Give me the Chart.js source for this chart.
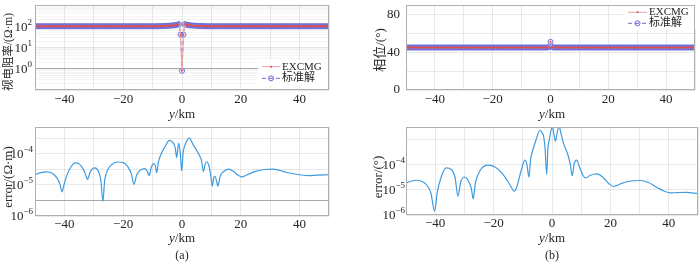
<!DOCTYPE html>
<html>
<head>
<meta charset="utf-8">
<script src="https://cdn.jsdelivr.net/npm/chart.js@4.4.1/dist/chart.umd.min.js"></script>
<style>
  body { margin: 0; width: 700px; height: 262px; background: #fff; position: relative; overflow: hidden;
         font-family: 'Liberation Serif', 'Noto Sans CJK SC', serif; color: #262626; }
  .box { position: absolute; width: 350px; height: 120px; }
  .lbl { position: absolute; font-size: 13px; white-space: nowrap; transform: translate(-50%, -50%); }
  .rot { transform: translate(-50%, -50%) rotate(-90deg); }
</style>
</head>
<body>
<div class="box" style="left:0;top:0"><canvas id="rhoChart" width="350" height="120"></canvas></div>
<div class="box" style="left:350px;top:0"><canvas id="phaseChart" width="350" height="120"></canvas></div>
<div class="box" style="left:0;top:120px"><canvas id="errRhoChart" width="350" height="120"></canvas></div>
<div class="box" style="left:350px;top:120px"><canvas id="errPhaseChart" width="350" height="120"></canvas></div>

<div class="lbl rot" style="left:7px;top:52px;font-size:11.5px">视电阻率/(Ω·m)</div>
<div class="lbl rot" style="left:378px;top:50px">相位/(°)</div>
<div class="lbl rot" style="left:8px;top:177px">error/(Ω·m)</div>
<div class="lbl rot" style="left:378px;top:177px">error/(°)</div>
<div class="lbl" style="left:182px;top:114px"><i>y</i>/km</div>
<div class="lbl" style="left:552px;top:114px"><i>y</i>/km</div>
<div class="lbl" style="left:182px;top:238px"><i>y</i>/km</div>
<div class="lbl" style="left:552px;top:238px"><i>y</i>/km</div>
<div class="lbl" style="left:182px;top:255px;font-size:12px">(a)</div>
<div class="lbl" style="left:552px;top:255px;font-size:12px">(b)</div>

<script>
// stations (km)
const stations = [
  -50,-49.5,-49,-48.5,-48,-47.5,-47,-46.5,-46,-45.5,-45,-44.5,-44,-43.5,-43,-42.5,-42,-41.5,-41,-40.5,
  -40,-39.5,-39,-38.5,-38,-37.5,-37,-36.5,-36,-35.5,-35,-34.5,-34,-33.5,-33,-32.5,-32,-31.5,-31,-30.5,
  -30,-29.5,-29,-28.5,-28,-27.5,-27,-26.5,-26,-25.5,-25,-24.5,-24,-23.5,-23,-22.5,-22,-21.5,-21,-20.5,
  -20,-19.5,-19,-18.5,-18,-17.5,-17,-16.5,-16,-15.5,-15,-14.5,-14,-13.5,-13,-12.5,-12,-11.5,-11,-10.5,
  -10,-9.5,-9,-8.5,-8,-7.5,-7,-6.5,-6,-5.5,-5,-4.5,-4,-3.5,-3,-2.5,-2,-1.5,-1,-0.5,
  0,0.5,1,1.5,2,2.5,3,3.5,4,4.5,5,5.5,6,6.5,7,7.5,8,8.5,9,9.5,
  10,10.5,11,11.5,12,12.5,13,13.5,14,14.5,15,15.5,16,16.5,17,17.5,18,18.5,19,19.5,
  20,20.5,21,21.5,22,22.5,23,23.5,24,24.5,25,25.5,26,26.5,27,27.5,28,28.5,29,29.5,
  30,30.5,31,31.5,32,32.5,33,33.5,34,34.5,35,35.5,36,36.5,37,37.5,38,38.5,39,39.5,
  40,40.5,41,41.5,42,42.5,43,43.5,44,44.5,45,45.5,46,46.5,47,47.5,48,48.5,49,49.5,
  50];

// apparent resistivity (Ohm.m)
const rhoExcmg = [
  100,100,100,100,100,100,100,100,100,100,100,100,100,100,100,100,100,100,100,100,
  100,100,100,100,100,100,100,100,100,100,100,100,100,100,100,100,100,100,100,100,
  100,100,100,100,100,100,100,100,100,100,100,100,100,100,100,100,100,100,100,100,
  100,100,100,100,100,100,100,100,100,100,100,100,100,100,100,100,100,100,100,100,
  100,100,100,100,101,101.5,102,102.5,103,104,105,106,107,108.5,110,112,115,120,126,40,
  0.8,40,126,120,115,112,110,108.5,107,106,105,104,103,102.5,102,101.5,101,100,100,100,
  100,100,100,100,100,100,100,100,100,100,100,100,100,100,100,100,100,100,100,100,
  100,100,100,100,100,100,100,100,100,100,100,100,100,100,100,100,100,100,100,100,
  100,100,100,100,100,100,100,100,100,100,100,100,100,100,100,100,100,100,100,100,
  100,100,100,100,100,100,100,100,100,100,100,100,100,100,100,100,100,100,100,100,
  100];
const rhoRef = [
  100,100,100,100,100,100,100,100,100,100,100,100,100,100,100,100,100,100,100,100,
  100,100,100,100,100,100,100,100,100,100,100,100,100,100,100,100,100,100,100,100,
  100,100,100,100,100,100,100,100,100,100,100,100,100,100,100,100,100,100,100,100,
  100,100,100,100,100,100,100,100,100,100,100,100,100,100,100,100,100,100,100,100,
  100,100,100,100,101,101.5,102,102.5,103,104,105,106,107,108.5,110,112,115,120,126,40,
  0.8,40,126,120,115,112,110,108.5,107,106,105,104,103,102.5,102,101.5,101,100,100,100,
  100,100,100,100,100,100,100,100,100,100,100,100,100,100,100,100,100,100,100,100,
  100,100,100,100,100,100,100,100,100,100,100,100,100,100,100,100,100,100,100,100,
  100,100,100,100,100,100,100,100,100,100,100,100,100,100,100,100,100,100,100,100,
  100,100,100,100,100,100,100,100,100,100,100,100,100,100,100,100,100,100,100,100,
  100];

// phase (deg)
const phaseExcmg = [
  45,45,45,45,45,45,45,45,45,45,45,45,45,45,45,45,45,45,45,45,
  45,45,45,45,45,45,45,45,45,45,45,45,45,45,45,45,45,45,45,45,
  45,45,45,45,45,45,45,45,45,45,45,45,45,45,45,45,45,45,45,45,
  45,45,45,45,45,45,45,45,45,45,45,45,45,45,45,45,45,45,45,45,
  45,45,45,45,45,45,45,45,45,45,45,45,45,45,45,45,45,45,45,45.5,
  51,45.5,45,45,45,45,45,45,45,45,45,45,45,45,45,45,45,45,45,45,
  45,45,45,45,45,45,45,45,45,45,45,45,45,45,45,45,45,45,45,45,
  45,45,45,45,45,45,45,45,45,45,45,45,45,45,45,45,45,45,45,45,
  45,45,45,45,45,45,45,45,45,45,45,45,45,45,45,45,45,45,45,45,
  45,45,45,45,45,45,45,45,45,45,45,45,45,45,45,45,45,45,45,45,
  45];
const phaseRef = [
  45,45,45,45,45,45,45,45,45,45,45,45,45,45,45,45,45,45,45,45,
  45,45,45,45,45,45,45,45,45,45,45,45,45,45,45,45,45,45,45,45,
  45,45,45,45,45,45,45,45,45,45,45,45,45,45,45,45,45,45,45,45,
  45,45,45,45,45,45,45,45,45,45,45,45,45,45,45,45,45,45,45,45,
  45,45,45,45,45,45,45,45,45,45,45,45,45,45,45,45,45,45,45,45.5,
  51,45.5,45,45,45,45,45,45,45,45,45,45,45,45,45,45,45,45,45,45,
  45,45,45,45,45,45,45,45,45,45,45,45,45,45,45,45,45,45,45,45,
  45,45,45,45,45,45,45,45,45,45,45,45,45,45,45,45,45,45,45,45,
  45,45,45,45,45,45,45,45,45,45,45,45,45,45,45,45,45,45,45,45,
  45,45,45,45,45,45,45,45,45,45,45,45,45,45,45,45,45,45,45,45,
  45];

// resistivity error
const errRhoY = [-50,-48,-46.2,-44,-42.5,-41.5,-40.8,-40.1,-39,-37.5,-36.3,-35,-33.5,-32.6,-32.1,-31.4,
  -30.5,-29.6,-28.5,-27.6,-26.9,-26.3,-25.3,-24,-22,-20,-18.5,-17.2,-16.3,-15.5,-14.3,-12.6,
  -11.7,-11.2,-10.4,-9.6,-9,-8.6,-8,-7,-5.8,-4.3,-3,-2.3,-1.8,-1.4,-1.1,-0.6,-0.1,0.4,1.2,
  2.4,3.9,5.6,6.6,7.3,7.8,8.4,9.2,9.8,10.3,10.8,11.2,11.7,12.2,13,14,15.8,17.5,19,20.4,22,
  25,28,30.6,33,35,37.4,40,43.1,46,50];
const errRho = [2.14e-5,2.51e-5,2.63e-5,2.34e-5,1.66e-5,1.05e-5,6.0e-6,1.05e-5,2.24e-5,4.17e-5,5.13e-5,4.79e-5,3.16e-5,1.91e-5,1.51e-5,2.4e-5,
  3.31e-5,3.55e-5,2.82e-5,1.41e-5,2.95e-6,1.41e-5,3.02e-5,4.47e-5,5.5e-5,5.25e-5,3.98e-5,2.24e-5,1.05e-5,2.0e-5,2.95e-5,3.39e-5,
  2.63e-5,2.04e-5,3.8e-5,4.9e-5,3.98e-5,2.51e-5,5.62e-5,1.05e-4,1.7e-4,2.75e-4,2.29e-4,1.58e-4,7.6e-5,1.58e-4,2.19e-4,1.12e-4,2.82e-5,1.12e-4,2.09e-4,
  3.31e-4,1.91e-4,1.02e-4,6.3e-5,2.69e-5,4.47e-5,5.62e-5,3.98e-5,2.0e-5,9.1e-6,1.78e-5,1.91e-5,1.41e-5,9.1e-6,1.91e-5,2.63e-5,3.24e-5,2.75e-5,2.09e-5,1.82e-5,2.09e-5,
  2.75e-5,3.16e-5,3.24e-5,3.02e-5,2.63e-5,2.34e-5,2.14e-5,2.0e-5,2.09e-5,2.14e-5];

// phase error
const errPhaseY = [-50,-48,-46.5,-44.5,-43,-41.5,-40.2,-39.3,-38,-36.2,-34.5,-33.2,-32.2,-31.3,-30,-28.8,
  -27.6,-27,-26.2,-24.5,-21.9,-19.5,-17,-15,-13.8,-12.9,-12,-10.5,-9.3,-8.6,-7.9,-7.3,-7,
  -5.5,-4.1,-3.4,-3,-2.4,-1.8,-1.4,-1,-0.3,0.1,0.7,1.2,1.8,2.4,3.1,3.9,5.6,6.3,6.9,7.6,8.4,
  9.5,10.5,11.6,13,15.4,17.5,19.5,21.1,23.5,26,30.3,33,36,38.5,40.5,43,46,50];
const errPhase = [1.91e-5,2.29e-5,2.45e-5,2.19e-5,1.62e-5,7.9e-6,1.41e-6,7.9e-6,3.16e-5,7.6e-5,6.6e-5,3.16e-5,5.6e-6,2.0e-5,3.31e-5,2.51e-5,
  1.12e-5,4.4e-6,2.0e-5,6.3e-5,9.8e-5,8.3e-5,4.47e-5,2.09e-5,1.2e-5,8.9e-6,1.41e-5,6.3e-5,1.55e-4,1.05e-4,3.31e-5,1.78e-4,2.57e-4,
  1.0e-3,2.45e-3,1.91e-3,1.62e-3,5.0e-4,4.07e-5,5.0e-4,8.9e-4,2.51e-3,3.55e-3,1.58e-3,8.9e-4,2.0e-3,3.55e-3,1.78e-3,7.6e-4,2.24e-4,1.0e-4,3.72e-5,1.12e-4,1.55e-4,
  7.9e-5,3.98e-5,3.02e-5,3.8e-5,4.37e-5,3.16e-5,1.78e-5,1.38e-5,1.78e-5,2.19e-5,2.4e-5,2.0e-5,1.26e-5,8.9e-6,7.6e-6,7.9e-6,8.1e-6,7.2e-6];

// ticks
const xTicks = [-50,-40,-30,-20,-10,0,10,20,30,40,50];
const rhoTicks = [0.1,0.2,0.3,0.4,0.5,0.6,0.7,0.8,0.9,1,2,3,4,5,6,7,8,9,10,20,30,40,50,60,70,80,90,
  100,200,300,400,500,600,700,800,900,1000];
const rhoTickExp = [0, 1, 2];
const phaseTicks = [0, 20, 40, 60, 80];
const phaseTickLabels = [0, 40, 80];
const errRhoTicks = [1e-6, 3.162e-6, 1e-5, 3.162e-5, 1e-4, 3.162e-4];
const errPhaseTicks = [1e-6, 1e-5, 1e-4, 1e-3];
const errTickExp = [-6, -5, -4];

const FONT = "'Liberation Serif', 'Noto Sans CJK SC', serif";
Chart.defaults.font.family = FONT;
Chart.defaults.font.size = 13;
Chart.defaults.color = '#262626';

function kmLabel(v) {
  if (v % 20 !== 0 || Math.abs(v) >= 50) return '';
  return v < 0 ? '\u2212' + (-v) : String(v);
}
function pts(xs, ys) { return xs.map((x, i) => ({x: x, y: ys[i]})); }

// box around the axes
const frame = {
  id: 'frame',
  afterDraw(chart) {
    const {ctx, chartArea: a} = chart;
    ctx.save();
    ctx.strokeStyle = '#b0b0b0';
    ctx.lineWidth = 1;
    ctx.strokeRect(Math.round(a.left) + 0.5, Math.round(a.top) + 0.5,
      Math.round(a.right - a.left) - 1, Math.round(a.bottom - a.top) - 1);
    ctx.restore();
  }
};

// 10^n labels with a raised exponent
const powTicks = {
  id: 'powTicks',
  afterDraw(chart, args, o) {
    if (!o.exps) return;
    const {ctx, chartArea: a} = chart;
    const scale = chart.scales.y;
    ctx.save();
    ctx.fillStyle = '#262626';
    ctx.textBaseline = 'middle';
    o.exps.forEach(e => {
      const y = scale.getPixelForValue(Math.pow(10, e));
      const ex = e < 0 ? '\u2212' + (-e) : String(e);
      ctx.font = '9px ' + FONT;
      const we = ctx.measureText(ex).width;
      ctx.font = '13px ' + FONT;
      const wb = ctx.measureText('10').width;
      const xr = a.left - o.pad;
      ctx.textAlign = 'left';
      ctx.fillText('10', xr - we - wb, y + 1);
      ctx.font = '9px ' + FONT;
      ctx.fillText(ex, xr - we, y - 4);
    });
    ctx.restore();
  }
};

const boxLegend = {
  id: 'boxLegend',
  afterDatasetsDraw(chart, args, o) {
    if (o.x === undefined) return;
    const ctx = chart.ctx;
    ctx.save();
    ctx.fillStyle = '#fff';
    ctx.fillRect(o.x, o.y, o.w, o.h);
    ctx.font = '11px ' + FONT;
    ctx.textBaseline = 'middle';
    chart.data.datasets.forEach((ds, i) => {
      const cy = o.y + o.first + i * o.step;
      const x0 = o.x + o.lineStart, x1 = x0 + o.lineLen, xm = (x0 + x1) / 2;
      ctx.strokeStyle = ds.borderColor;
      ctx.lineWidth = 1;
      ctx.setLineDash(ds.borderDash || []);
      ctx.beginPath(); ctx.moveTo(x0, cy); ctx.lineTo(x1, cy); ctx.stroke();
      ctx.setLineDash([]);
      ctx.beginPath(); ctx.arc(xm, cy, ds.pointRadius, 0, 2 * Math.PI);
      if (ds.pointBorderWidth > 0) { ctx.strokeStyle = ds.pointBorderColor; ctx.stroke(); }
      else { ctx.fillStyle = ds.pointBackgroundColor; ctx.fill(); }
      ctx.fillStyle = '#262626';
      ctx.fillText(ds.label, x1 + 2, cy);
    });
    ctx.restore();
  }
};

function excmgSet(xs, ys) {
  return {label: 'EXCMG', data: pts(xs, ys), order: 0, borderColor: '#f3a0a0', borderWidth: 1,
    pointRadius: 1, pointBackgroundColor: '#e04848', pointBorderWidth: 0, tension: 0};
}
function refSet(xs, ys) {
  return {label: '标准解', data: pts(xs, ys), order: 1, borderColor: '#6a6ad8', borderWidth: 1,
    borderDash: [4, 3], pointRadius: 2.5, pointBorderColor: '#6a6ad8', pointBorderWidth: 1,
    pointBackgroundColor: 'rgba(0,0,0,0)', tension: 0};
}

function panel(id, cfg) {
  return new Chart(document.getElementById(id), {
    type: 'line',
    data: {datasets: cfg.datasets},
    options: {
      responsive: false, animation: false, events: [],
      layout: {padding: {left: 0, right: cfg.padRight, top: cfg.padTop, bottom: 0}},
      plugins: {legend: {display: false}, tooltip: {enabled: false},
        boxLegend: cfg.legend || {}, powTicks: cfg.pow || {}},
      scales: {
        x: {
          type: 'linear', min: -50, max: 50,
          afterBuildTicks: s => { s.ticks = xTicks.map(v => ({value: v})); },
          afterFit: s => { s.height = cfg.xHeight; s.paddingLeft = 0; s.paddingRight = 0; },
          ticks: {callback: kmLabel, autoSkip: false, maxRotation: 0, padding: cfg.xPad},
          grid: {color: 'rgba(0,0,0,0.09)', drawTicks: false},
          border: {display: false}
        },
        y: Object.assign({
          afterFit: s => { s.width = cfg.yWidth; s.paddingTop = 0; s.paddingBottom = 0; },
          border: {display: false}
        }, cfg.y)
      }
    },
    plugins: [boxLegend, frame, powTicks]
  });
}

panel('rhoChart', {
  padRight: 21, padTop: 0, xHeight: 30, yWidth: 35, xPad: 2,
  datasets: [excmgSet(stations, rhoExcmg), refSet(stations, rhoRef)],
  legend: {x: 258, y: 60, w: 70, h: 25, first: 6.7, step: 11.6, lineStart: 4, lineLen: 18},
  pow: {exps: rhoTickExp, pad: 3},
  y: {
    type: 'logarithmic', min: 0.1, max: 1000,
    afterBuildTicks: s => { s.ticks = rhoTicks.map(v => ({value: v})); },
    ticks: {display: false},
    grid: {drawTicks: false, color: c => {
      const v = c.tick.value;
      if (Math.abs(v - 1) < 1e-9) return '#a8a8a8';
      const e = Math.log10(v);
      return Math.abs(e - Math.round(e)) < 1e-6 ? 'rgba(0,0,0,0.1)' : 'rgba(0,0,0,0.04)';
    }}
  }
});

panel('phaseChart', {
  padRight: 2, padTop: 0, xHeight: 30, yWidth: 56, xPad: 2,
  datasets: [excmgSet(stations, phaseExcmg), refSet(stations, phaseRef)],
  legend: {x: 274, y: 4, w: 72, h: 26, first: 8.3, step: 11, lineStart: 4, lineLen: 19},
  y: {
    type: 'linear', min: 0, max: 90,
    afterBuildTicks: s => { s.ticks = phaseTicks.map(v => ({value: v})); },
    ticks: {callback: v => phaseTickLabels.includes(v) ? String(v) : '', autoSkip: false, padding: 6},
    grid: {drawTicks: false, color: 'rgba(0,0,0,0.09)'}
  }
});

panel('errRhoChart', {
  padRight: 21, padTop: 7, xHeight: 24, yWidth: 35, xPad: 1,
  datasets: [{label: 'error', data: pts(errRhoY, errRho), borderColor: '#3d9be0', borderWidth: 1.2,
    pointRadius: 0, cubicInterpolationMode: 'monotone'}],
  pow: {exps: errTickExp, pad: 2},
  y: {
    type: 'logarithmic', min: 1e-6, max: 7.4e-4,
    afterBuildTicks: s => { s.ticks = errRhoTicks.map(v => ({value: v})); },
    ticks: {display: false},
    grid: {drawTicks: false, color: c => Math.abs(c.tick.value - 3.162e-6) < 1e-9 ? '#a8a8a8' : 'rgba(0,0,0,0.09)'}
  }
});

panel('errPhaseChart', {
  padRight: 2, padTop: 7, xHeight: 25, yWidth: 56, xPad: 1,
  datasets: [{label: 'error', data: pts(errPhaseY, errPhase), borderColor: '#3d9be0', borderWidth: 1.2,
    pointRadius: 0, cubicInterpolationMode: 'monotone'}],
  pow: {exps: errTickExp, pad: 1},
  y: {
    type: 'logarithmic', min: 1e-6, max: 3.3e-3,
    afterBuildTicks: s => { s.ticks = errPhaseTicks.map(v => ({value: v})); },
    ticks: {display: false},
    grid: {drawTicks: false, color: 'rgba(0,0,0,0.09)'}
  }
});
</script>
</body>
</html>
